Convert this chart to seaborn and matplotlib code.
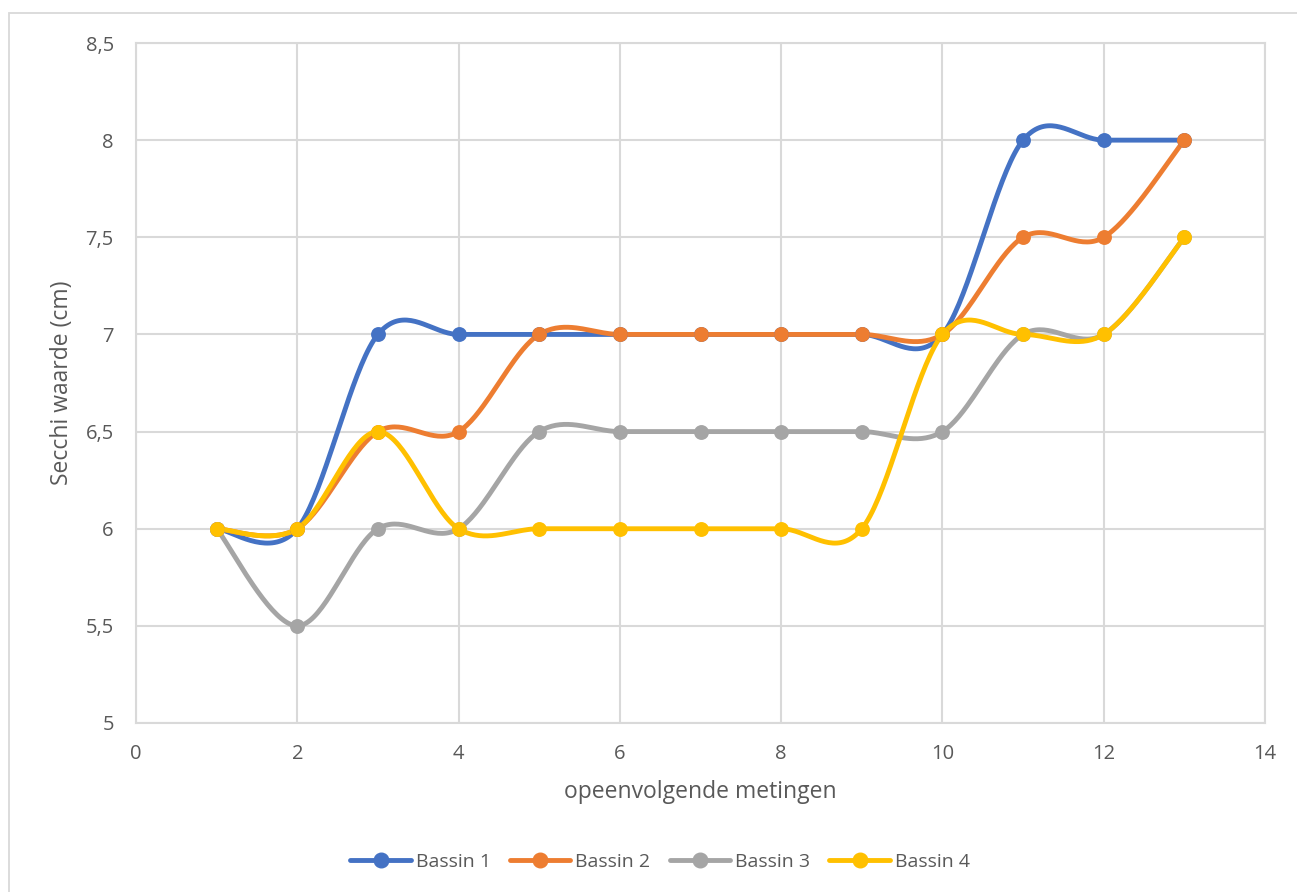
import numpy as np
import pandas as pd
import matplotlib
matplotlib.use("Agg")
import matplotlib.pyplot as plt
from matplotlib.lines import Line2D
from matplotlib.patches import Rectangle
import seaborn as sns

# Secchi readings per basin over consecutive measurements
metingen = [1, 2, 3, 4, 5, 6, 7, 8, 9, 10, 11, 12, 13]
bassin_1 = [6, 6, 7, 7, 7, 7, 7, 7, 7, 7, 8, 8, 8]
bassin_2 = [6, 6, 6.5, 6.5, 7, 7, 7, 7, 7, 7, 7.5, 7.5, 8]
bassin_3 = [6, 5.5, 6, 6, 6.5, 6.5, 6.5, 6.5, 6.5, 6.5, 7, 7, 7.5]
bassin_4 = [6, 6, 6.5, 6, 6, 6, 6, 6, 6, 7, 7, 7, 7.5]
series_names = ["Bassin 1", "Bassin 2", "Bassin 3", "Bassin 4"]
colors = ["#4472C4", "#ED7D31", "#A5A5A5", "#FFC000"]

x_ticks = [0, 2, 4, 6, 8, 10, 12, 14]
y_ticks = [5, 5.5, 6, 6.5, 7, 7.5, 8, 8.5]


def smooth_curve(xs, ys, n=40):
    """Cubic Bezier smoothing through every point (tangent = neighbour difference / 6)."""
    p = np.column_stack([xs, ys]).astype(float)
    ext = np.vstack([p[0], p, p[-1]])
    out = []
    t = np.linspace(0, 1, n)[:, None]
    for i in range(len(p) - 1):
        p0, p3 = p[i], p[i + 1]
        c1 = p0 + (ext[i + 2] - ext[i]) / 6.0
        c2 = p3 - (ext[i + 3] - ext[i + 1]) / 6.0
        seg = ((1 - t) ** 3) * p0 + 3 * ((1 - t) ** 2) * t * c1 + 3 * (1 - t) * t ** 2 * c2 + t ** 3 * p3
        out.append(seg if i == 0 else seg[1:])
    return np.vstack(out)


sns.set_theme(style="white")
plt.rcParams["font.family"] = ["Open Sans", "DejaVu Sans"]
text_color = "#595959"
grid_color = "#D9D9D9"

fig = plt.figure(figsize=(12.97, 8.92), dpi=100)
fig.patches.append(Rectangle((9 / 1297, -0.1), 1.2, (892 - 13) / 892 + 0.1,
                             transform=fig.transFigure, fill=False,
                             edgecolor=grid_color, linewidth=1.3))
ax = fig.add_axes([136 / 1297, (892 - 723) / 892, 1129 / 1297, 680 / 892])

all_series = [bassin_1, bassin_2, bassin_3, bassin_4]
for name, vals, col in zip(series_names, all_series, colors):
    curve = smooth_curve(metingen, vals)
    df_curve = pd.DataFrame({"x": curve[:, 0], "y": curve[:, 1]})
    sns.lineplot(data=df_curve, x="x", y="y", sort=False, estimator=None,
                 color=col, linewidth=3.5, ax=ax, legend=False, zorder=3)
    df_pts = pd.DataFrame({"x": metingen, "y": vals})
    sns.scatterplot(data=df_pts, x="x", y="y", color=col, s=115,
                    edgecolor=col, linewidth=0, ax=ax, legend=False, zorder=4)

ax.set_xlim(0, 14)
ax.set_ylim(5, 8.5)
ax.set_xticks(x_ticks)
ax.set_yticks(y_ticks)
ax.set_xticklabels([str(v) for v in x_ticks])
ax.set_yticklabels([("%g" % v).replace(".", ",") for v in y_ticks])
ax.grid(True, color=grid_color, linewidth=1.5)
ax.set_axisbelow(True)
for s in ax.spines.values():
    s.set_color(grid_color)
    s.set_linewidth(1.5)
ax.tick_params(axis="both", length=0, labelsize=14.5, colors=text_color)
ax.tick_params(axis="x", pad=15)
ax.tick_params(axis="y", pad=16)
ax.set_xlabel("opeenvolgende metingen", fontsize=16.5, color=text_color, labelpad=12)
ax.set_ylabel("Secchi waarde (cm)", fontsize=16.5, color=text_color, labelpad=8)

handles = [Line2D([0], [0], color=c, linewidth=3.5, marker="o", markersize=10.5)
           for c in colors]
fig.legend(handles, series_names, loc="center", bbox_to_anchor=(660 / 1297, 1 - 862 / 892),
           ncol=4, frameon=False, fontsize=14, labelcolor=text_color,
           handlelength=3.1, handletextpad=0.25, columnspacing=1.0)

fig.savefig("out.png", dpi=100, facecolor="white")
